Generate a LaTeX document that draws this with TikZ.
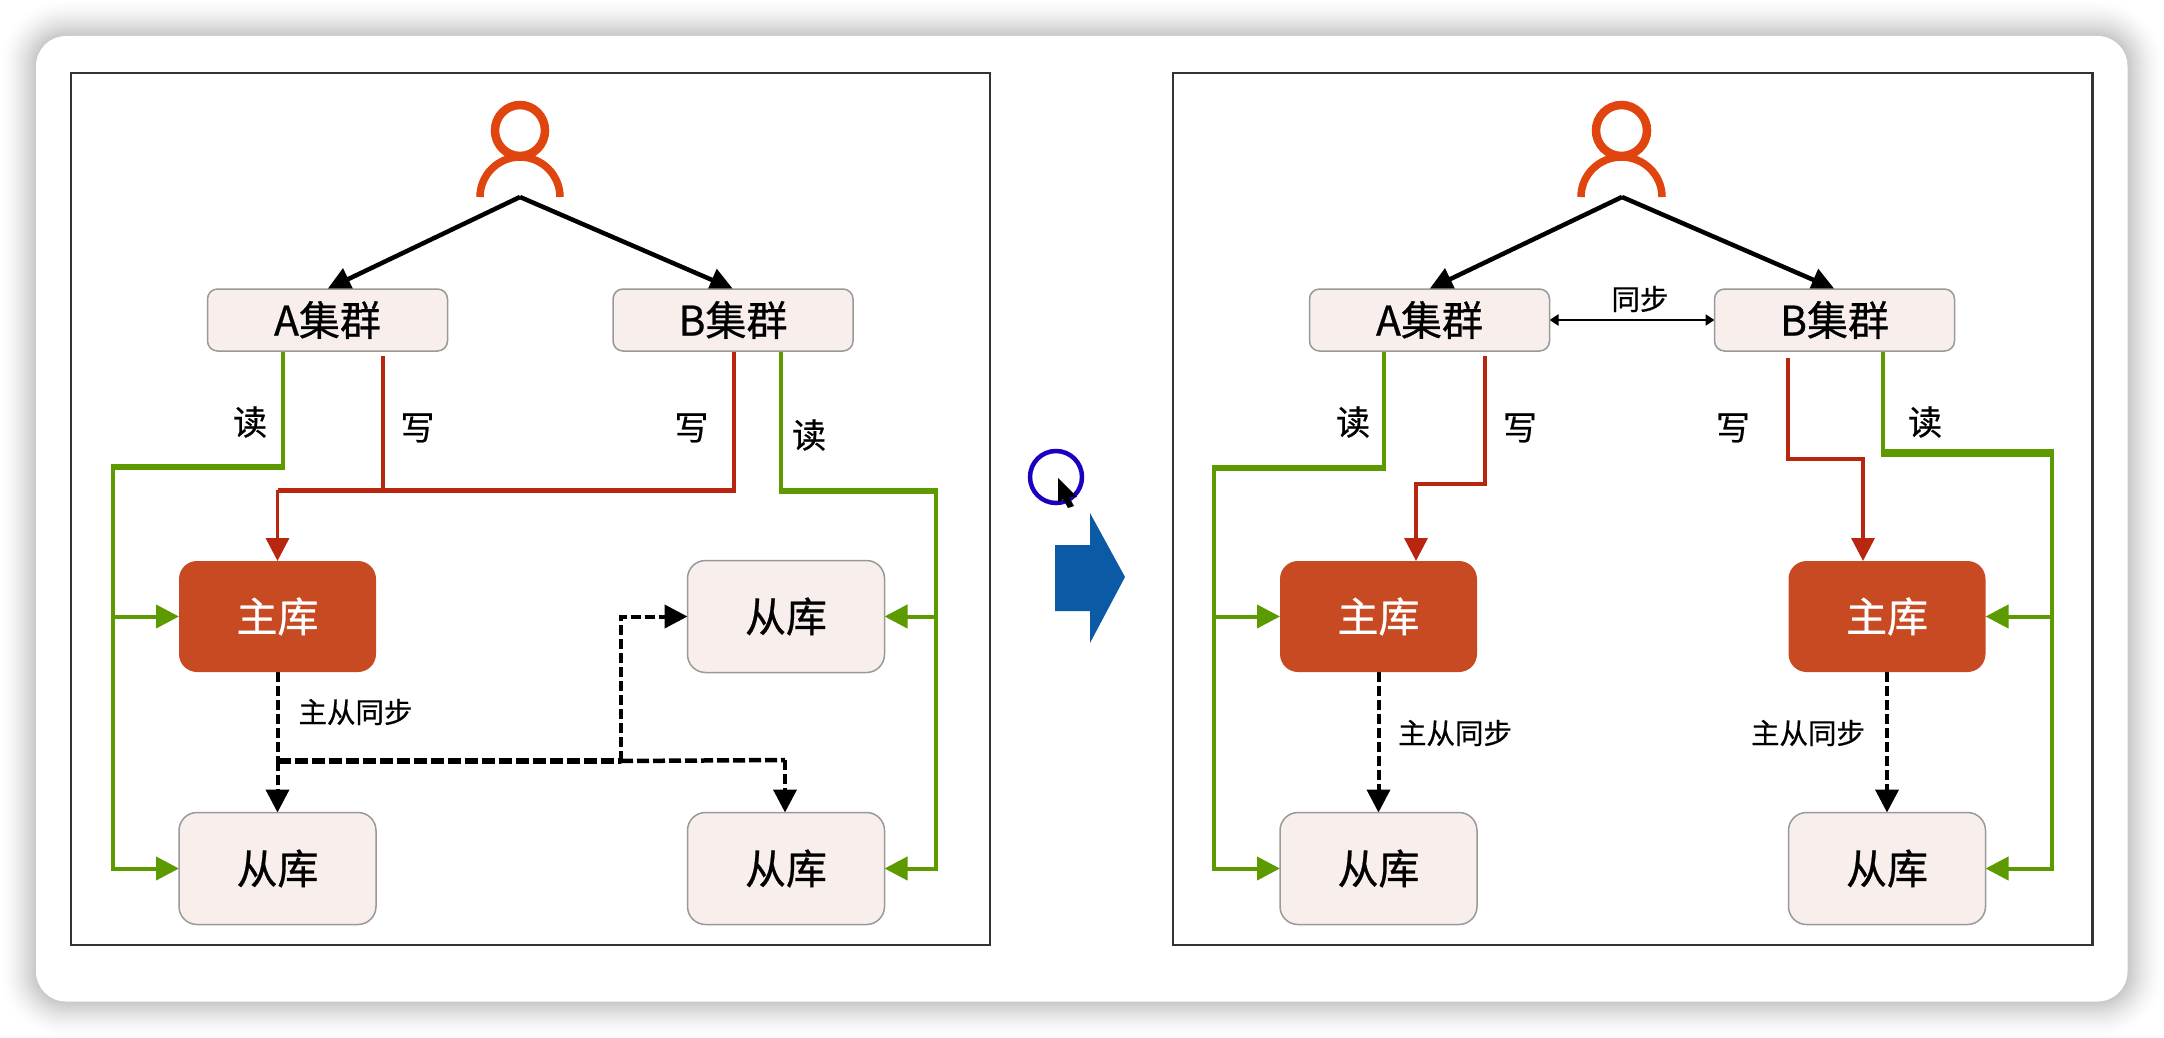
\documentclass[tikz,border=0pt]{standalone}
\usepackage{fontspec}
\setmainfont{Noto Sans CJK SC}[FakeBold=0.6]
\usetikzlibrary{arrows.meta,backgrounds,calc}
\newcommand{\nudged}[1]{\raisebox{-1.5pt}{#1}}
\definecolor{boxfill}{HTML}{F8EEEC}
\definecolor{boxline}{HTML}{999999}
\definecolor{masterfill}{HTML}{C84A22}
\definecolor{personc}{HTML}{E0450F}
\definecolor{readc}{HTML}{5C9A00}
\definecolor{writec}{HTML}{B9260F}
\definecolor{framec}{HTML}{333333}
\definecolor{bluearrow}{HTML}{0B5AA6}
\definecolor{ringc}{HTML}{1A00C0}
\tikzset{
  x=1pt,y=-1pt,
  bighead/.tip={Triangle[length=23pt,width=23pt]},
  smallhead/.tip={Triangle[length=9pt,width=11pt]},
  cluster/.style={draw=boxline,line width=1.5pt,fill=boxfill,rounded corners=10pt,minimum width=240pt,minimum height=62pt,inner sep=0pt,outer sep=0pt,font=\fontsize{41}{43}\selectfont},
  slavedb/.style={draw=boxline,line width=1.5pt,fill=boxfill,rounded corners=18pt,minimum width=197pt,minimum height=112pt,inner sep=0pt,outer sep=0pt,font=\fontsize{41}{43}\selectfont},
  masterdb/.style={fill=masterfill,rounded corners=18pt,minimum width=197pt,minimum height=111pt,inner sep=0pt,outer sep=0pt,text=white,font=\fontsize{41}{43}\selectfont},
  opword/.style={inner sep=0pt,font=\fontsize{34}{36}\selectfont},
  syncword/.style={inner sep=0pt,font=\fontsize{28.5}{30}\selectfont},
  frameline/.style={draw=framec,line width=2.5pt},
  usercall/.style={draw=black,line width=4.5pt,-bighead},
  readline/.style={draw=readc,line width=4pt},
  readheavy/.style={draw=readc,line width=6pt,line cap=butt},
  readarrow/.style={draw=readc,line width=4pt,-bighead},
  writeline/.style={draw=writec,line width=3.5pt},
  writeheavy/.style={draw=writec,line width=5pt},
  writearrow/.style={draw=writec,line width=3.5pt,-bighead},
  syncline/.style={draw=black,line width=4pt,dash pattern=on 10pt off 4pt},
  syncheavy/.style={draw=black,line width=6pt,dash pattern=on 13pt off 4pt},
  syncmid/.style={draw=black,line width=4.5pt,dash pattern=on 12pt off 4pt},
  syncarrow/.style={draw=black,line width=4pt,dash pattern=on 10pt off 4pt,-bighead},
  linkline/.style={draw=black,line width=2.5pt,smallhead-smallhead},
  userhead/.style={draw=personc,line width=8.5pt},
  userbody/.style={draw=personc,line width=7.5pt}
}
\begin{document}
\begin{tikzpicture}
\useasboundingbox (0,0) rectangle (2164,1038);
% ---------- nodes
\node[cluster] (A1) at (327.5,320) {\nudged{A集群}};
\node[cluster] (B1) at (733,320) {\nudged{B集群}};
\node[masterdb] (M1) at (277.5,616.5) {\nudged{主库}};
\node[slavedb] (S1) at (277.5,868.5) {\nudged{从库}};
\node[slavedb] (S2) at (786,616.5) {\nudged{从库}};
\node[slavedb] (S3) at (786,868.5) {\nudged{从库}};
\node[cluster] (A2) at (1429.5,320) {\nudged{A集群}};
\node[cluster] (B2) at (1834.5,320) {\nudged{B集群}};
\node[masterdb] (M2) at (1378.5,616.5) {\nudged{主库}};
\node[slavedb] (S4) at (1378.5,868.5) {\nudged{从库}};
\node[masterdb] (M3) at (1887,616.5) {\nudged{主库}};
\node[slavedb] (S5) at (1887,868.5) {\nudged{从库}};
\node[opword] (r1) at (250,422) {读};
\node[opword] (w1) at (417.5,428) {写};
\node[opword] (w2) at (691.5,428) {写};
\node[opword] (r2) at (809,435) {读};
\node[syncword] (t1) at (355.5,712) {主从同步};
\node[opword] (r3) at (1353,422) {读};
\node[opword] (w3) at (1520,428) {写};
\node[opword] (w4) at (1733,428) {写};
\node[opword] (r4) at (1925,422) {读};
\node[syncword] (t2) at (1640,299) {同步};
\node[syncword] (t3) at (1455,733) {主从同步};
\node[syncword] (t4) at (1808,733) {主从同步};
% ---------- user icons
\draw[userbody] (480,197) .. controls (480,175) and (498,157) .. (520,157) .. controls (542,157) and (560,175) .. (560,197);
\draw[userhead] (520,130.5) ellipse [x radius=25,y radius=25.5];
\draw[userbody] (1581,197) .. controls (1581,175) and (1599,157) .. (1621.5,157) .. controls (1644,157) and (1662,175) .. (1662,197);
\draw[userhead] (1621.5,130.5) ellipse [x radius=25.5,y radius=25.5];
\coordinate (u1) at (520,197);
\coordinate (u2) at (1622,197);
% ---------- cursor and block arrow
\fill[bluearrow] (1055,545) -- (1090,545) -- (1090,513) -- (1125,577) -- (1090,643) -- (1090,611) -- (1055,611) -- cycle;
\draw[ringc,line width=4.5pt] (1056,477) circle [radius=26];
\fill[black] (1058,478) -- (1077,497) -- (1069,497) -- (1074,506) -- (1068,508) -- (1063,499) -- (1058,503) -- cycle;
% ---------- everything behind the nodes
\begin{pgfonlayer}{background}
\foreach \i in {36,35,...,1}{
  \pgfmathsetmacro{\p}{22*pow(1-\i/37,1.6)}
  \fill[black!\p!white,rounded corners=30pt+\i*1pt] ({36-\i},{36-\i}) rectangle ({2127.5+\i},{1001.5+\i});
}
\fill[white,rounded corners=30pt] (36,36) rectangle (2127.5,1001.5);
\draw[frameline] (71,73) rectangle (990,945);
\draw[frameline] (1173,73) rectangle (2092.5,945);
% --- left panel
\draw[usercall] (u1) -- (A1.north);
\draw[usercall] (u1) -- (B1.north);
\coordinate (ga) at (283,467);
\coordinate (gb) at (113,467);
\draw[readline] (A1.south -| ga) -- (ga);
\draw[readheavy] ($(ga)+(2,0)$) -- ($(gb)+(-2,0)$);
\draw[readarrow] (gb) -- (gb |- S1.west) -- (S1.west);
\draw[readarrow] (gb |- M1.west) -- (M1.west);
\coordinate (gc) at (780.5,491);
\coordinate (gd) at (936,491);
\draw[readline] (B1.south -| gc) -- (gc);
\draw[readheavy] ($(gc)+(-2,0)$) -- ($(gd)+(2,0)$);
\draw[readarrow] (gd) -- (gd |- S3.east) -- (S3.east);
\draw[readarrow] (gd |- S2.east) -- (S2.east);
\coordinate (wa) at (383,356);
\coordinate (wb) at (383,490);
\coordinate (wc) at (734,490);
\draw[writeline] (wa) -- (wb);
\draw[writeline] (B1.south -| wc) -- (wc);
\draw[writeheavy] ($(wc)+(1.5,0)$) -- (M1.north |- wc);
\draw[writearrow] (M1.north |- wc) -- (M1.north);
\coordinate (da) at (277.5,761);
\coordinate (db) at (621,761);
\coordinate (dc) at (785,760);
\draw[syncline] (M1.south) -- (da);
\draw[syncheavy] (da) -- (db);
\draw[syncmid] (db) -- (dc);
\draw[syncarrow] (da) -- (S1.north);
\draw[syncarrow] (dc) -- (S3.north -| dc);
\draw[syncarrow] (db) -- (db |- S2.west) -- (S2.west);
% --- right panel
\draw[usercall] (u2) -- (A2.north);
\draw[usercall] (u2) -- (B2.north);
\draw[linkline] (A2.east) -- (B2.west);
\coordinate (ge) at (1384,468);
\coordinate (gf) at (1214,468);
\draw[readline] (A2.south -| ge) -- (ge);
\draw[readheavy] ($(ge)+(2,0)$) -- ($(gf)+(-2,0)$);
\draw[readarrow] (gf) -- (gf |- S4.west) -- (S4.west);
\draw[readarrow] (gf |- M2.west) -- (M2.west);
\coordinate (gg) at (1883,453);
\coordinate (gh) at (2052,453);
\draw[readline] (B2.south -| gg) -- (gg);
\draw[readheavy,line width=8pt] ($(gg)+(-2,0)$) -- ($(gh)+(2,0)$);
\draw[readarrow] (gh) -- (gh |- S5.east) -- (S5.east);
\draw[readarrow] (gh |- M3.east) -- (M3.east);
\coordinate (wd) at (1485,356);
\coordinate (we) at (1485,484);
\coordinate (wf) at (1416,484);
\draw[writearrow] (wd) -- (we) -- (wf) -- (wf |- M2.north);
\coordinate (wg) at (1788,358);
\coordinate (wh) at (1788,459);
\coordinate (wi) at (1863,459);
\draw[writearrow] (wg) -- (wh) -- (wi) -- (wi |- M3.north);
\draw[syncarrow] (M2.south) -- (S4.north);
\draw[syncarrow] (M3.south) -- (S5.north);
\end{pgfonlayer}
\end{tikzpicture}
\end{document}
